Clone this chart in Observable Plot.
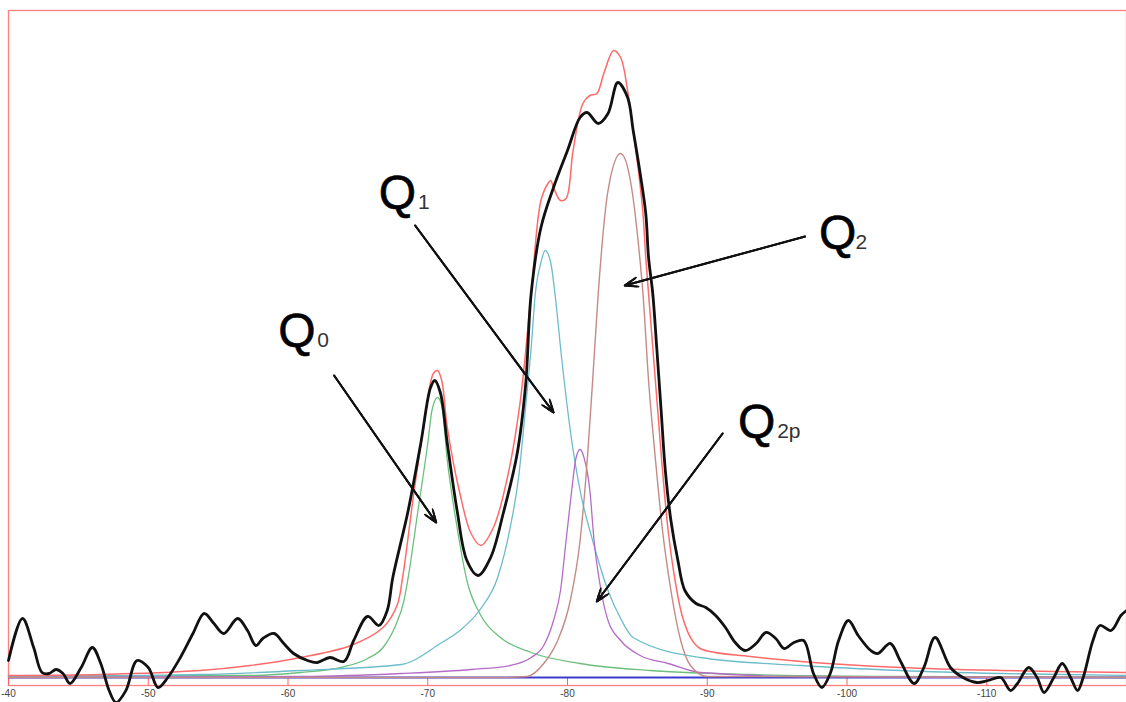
<!DOCTYPE html>
<html>
<head>
<meta charset="utf-8">
<script src="https://cdn.jsdelivr.net/npm/d3@7"></script>
<script src="https://cdn.jsdelivr.net/npm/@observablehq/plot@0.6"></script>
<style>
  html, body { margin: 0; padding: 0; background: #fff; }
  #chart { position: absolute; left: 0; top: 0; }
</style>
</head>
<body>
<div id="chart"></div>
<script>
// ---- data (chemical shift in ppm, intensity in arbitrary units) ----
const shiftTicks = [-40, -50, -60, -70, -80, -90, -100, -110];

// experimental spectrum (black)
const blackShift = [-40.0,-41.0,-41.8,-42.4,-42.9,-43.4,-43.9,-44.4,-45.2,-46.0,-46.6,-47.2,-47.7,-48.4,-49.2,-50.0,-50.7,-51.4,-52.3,-53.2,-54.0,-54.7,-55.4,-56.4,-57.1,-57.7,-58.2,-59.0,-59.7,-60.4,-61.4,-62.1,-63.0,-64.0,-64.7,-65.7,-66.5,-67.1,-67.5,-68.6,-69.5,-70.2,-70.5,-70.9,-71.4,-72.1,-72.8,-73.6,-74.5,-75.4,-76.4,-77.0,-77.4,-78.1,-79.0,-80.0,-80.9,-81.4,-82.2,-82.9,-83.6,-84.3,-84.7,-85.2,-85.6,-85.8,-86.1,-86.4,-86.7,-87.0,-87.4,-87.9,-88.4,-89.2,-89.9,-90.6,-91.3,-92.0,-92.7,-93.5,-94.2,-94.9,-95.5,-96.2,-96.9,-97.6,-98.2,-98.8,-99.4,-100.1,-100.8,-101.7,-102.2,-103.1,-103.8,-104.8,-105.5,-106.3,-107.4,-108.3,-109.3,-110.1,-111.0,-111.7,-112.2,-113.0,-113.6,-114.1,-114.8,-115.4,-116.0,-116.5,-116.9,-117.6,-118.1,-118.9,-119.6,-120.0];
const blackI = [17,59,30,5,4,8,4,-6,10,30,14,-13,-25,-13,17,10,-10,0,20,44,64,54,44,59,47,32,39,44,34,24,17,15,20,16,37,61,52,67,100,167,234,290,297,285,234,167,117,102,120,164,224,292,384,450,490,527,560,565,554,564,595,580,547,504,464,420,384,327,267,207,157,117,87,74,70,62,50,35,27,34,45,39,29,35,37,4,-10,4,37,57,42,27,24,34,17,-6,10,40,10,0,-5,-3,0,-13,-6,10,0,-15,0,14,0,-13,0,37,52,47,62,67];

// total fit (red)
const redShift = [-40.0,-46.6,-53.7,-57.3,-60.9,-64.5,-66.8,-67.8,-68.2,-69.0,-69.7,-70.4,-70.7,-71.0,-71.4,-72.3,-73.1,-73.8,-74.7,-75.7,-76.6,-77.4,-78.1,-78.6,-78.8,-79.0,-79.5,-79.9,-80.4,-81.1,-81.6,-82.1,-82.6,-83.3,-83.8,-84.3,-84.7,-85.1,-85.4,-85.6,-85.8,-86.4,-86.8,-87.2,-87.7,-88.2,-88.8,-89.5,-93.1,-96.7,-103.8,-111.0,-120.0];
const redI = [2,3,7,12,20,32,50,72,100,184,250,304,307,297,250,184,144,132,150,200,274,384,477,494,497,490,477,479,527,574,582,584,604,627,620,587,547,504,464,420,384,277,207,147,97,62,40,29,21,16,10,7,5];

// Q0 component (green)
const greenShift = [-40.0,-53.7,-57.3,-60.9,-63.8,-65.7,-66.8,-67.7,-68.3,-68.6,-69.3,-70.0,-70.3,-70.7,-71.0,-71.4,-72.1,-72.8,-73.8,-75.2,-77.4,-80.9,-85.9,-93.1,-103.8,-120.0];
const greenI = [1,2,2,5,10,19,30,52,77,100,167,234,267,280,272,217,150,97,62,40,25,14,7,3,1,0];

// Q1 component (cyan)
const cyanShift = [-40.0,-53.7,-60.9,-68.1,-70.9,-72.3,-73.8,-75.0,-75.9,-76.5,-77.0,-77.4,-77.7,-78.1,-78.4,-78.8,-79.1,-79.6,-80.2,-80.9,-81.8,-82.9,-83.8,-84.7,-89.5,-96.7,-103.8,-111.0,-120.0];
const cyanI = [1,3,7,13,34,47,69,100,150,200,270,330,384,415,427,415,384,317,247,187,137,87,59,40,20,12,7,4,2];

// Q2p component (purple)
const purpleShift = [-40.0,-60.9,-68.1,-73.1,-75.9,-77.4,-78.3,-79.0,-79.5,-79.9,-80.3,-80.6,-80.9,-81.2,-81.6,-81.9,-82.4,-82.9,-83.8,-85.2,-87.2,-89.5,-96.7,-120.0];
const purpleI = [0,1,4,8,12,20,32,57,87,137,187,219,228,219,187,137,87,57,37,22,14,5,1,0];

// Q2 component (brown)
const brownShift = [-40.0,-75.2,-77.1,-78.3,-79.3,-80.2,-80.9,-81.3,-81.8,-82.2,-82.9,-83.8,-84.5,-85.1,-85.4,-85.8,-86.3,-86.8,-87.4,-88.1,-88.8,-90.0,-120.0];
const brownI = [0,0,1,14,37,77,137,197,297,384,487,524,497,430,384,297,217,147,87,37,12,1,0];

// annotations
const qNames = ["Q", "Q", "Q", "Q"];
const qSubs = ["0", "1", "2", "2p"];
const qShift = [-59.3, -66.5, -98.0, -92.2];
const qI = [331, 469, 429, 240];
const subShift = [-62.1, -69.3, -100.6, -95.0];
const arrowFromShift = [-63.3, -69.1, -97.0, -91.1];
const arrowFromI = [302, 452, 441, 244];
const arrowToShift = [-70.6, -79.0, -84.1, -82.1];
const arrowToI = [155, 265, 392, 76];

// ---- build tables ----
const toRows = (xs, ys) => xs.map((x, i) => ({shift: x, intensity: ys[i]}));
const black = toRows(blackShift, blackI);
const red = toRows(redShift, redI);
const green = toRows(greenShift, greenI);
const cyan = toRows(cyanShift, cyanI);
const purple = toRows(purpleShift, purpleI);
const brown = toRows(brownShift, brownI);
const labels = qNames.map((q, i) => ({q, sub: qSubs[i], x: qShift[i], xs: subShift[i], y: qI[i]}));
const arrows = arrowFromShift.map((x, i) => ({x1: x, y1: arrowFromI[i], x2: arrowToShift[i], y2: arrowToI[i]}));

const font = "'Liberation Sans', Arial, sans-serif";
const arrowOpts = {x1: "x1", y1: "y1", x2: "x2", y2: "y2", stroke: "#111", headAngle: 40};

const plot = Plot.plot({
  width: 1126,
  height: 702,
  marginLeft: 8,
  marginRight: 0,
  marginTop: 10,
  marginBottom: 17,
  style: {fontFamily: font, background: "white", overflow: "visible"},
  x: {domain: [-40, -120], axis: null},
  y: {domain: [-8, 667], axis: null},
  marks: [
    Plot.frame({stroke: "#ff8080", strokeWidth: 1.3}),
    Plot.ruleX(shiftTicks, {y1: -8, y2: 0, stroke: "#ff6060", strokeWidth: 1}),
    Plot.axisX(shiftTicks, {
      anchor: "bottom", tickSize: 0, tickPadding: 4, fontSize: 10,
      fill: "#444", tickFormat: d => String(d)
    }),
    Plot.ruleY([0], {stroke: "#3a3ad0", strokeWidth: 2}),
    Plot.line(green, {x: "shift", y: "intensity", stroke: "#6cbf7c", strokeWidth: 1.3, curve: "monotone-x"}),
    Plot.line(cyan, {x: "shift", y: "intensity", stroke: "#6cbccb", strokeWidth: 1.3, curve: "monotone-x"}),
    Plot.line(purple, {x: "shift", y: "intensity", stroke: "#b46cc6", strokeWidth: 1.3, curve: "monotone-x"}),
    Plot.line(brown, {x: "shift", y: "intensity", stroke: "#c48a86", strokeWidth: 1.4, curve: "monotone-x"}),
    Plot.line(red, {x: "shift", y: "intensity", stroke: "#ff6a6a", strokeWidth: 1.5, curve: "catmull-rom"}),
    Plot.line(black, {x: "shift", y: "intensity", stroke: "#111", strokeWidth: 2.8, curve: "catmull-rom"}),
    Plot.arrow(arrows, {...arrowOpts, strokeWidth: 1.6, headLength: 13}),
    Plot.arrow(arrows, {...arrowOpts, strokeWidth: 2, headLength: 9}),
    Plot.arrow(arrows, {...arrowOpts, strokeWidth: 2, headLength: 5}),
    Plot.text(labels, {x: "x", y: "y", text: "q", textAnchor: "start", lineAnchor: "bottom", fontSize: 48, fill: "#000", stroke: "#000", strokeWidth: 0.6, fontFamily: font}),
    Plot.text(labels, {x: "xs", y: "y", text: "sub", textAnchor: "start", lineAnchor: "bottom", fontSize: 21, fill: "#333", fontFamily: font})
  ]
});
document.getElementById("chart").appendChild(plot);
</script>
</body>
</html>
